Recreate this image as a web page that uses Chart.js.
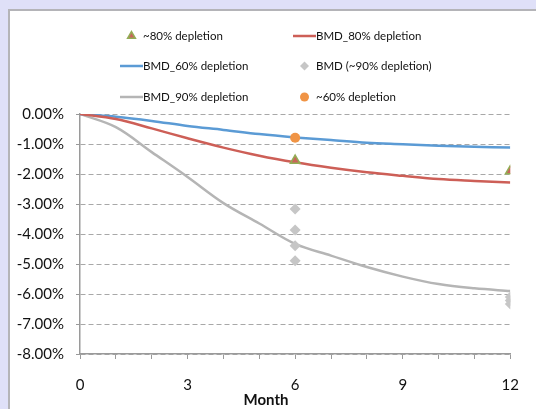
<!DOCTYPE html>
<html>
<head>
    <title>BMD change by depletion</title>
    <style>
        body {
            margin: 0;
            width: 536px;
            height: 409px;
            background: #dfe0f8;
            overflow: hidden;
            font-family: Lato, sans-serif;
        }
        .panel {
            position: absolute;
            left: 8px;
            top: 9px;
            width: 540px;
            height: 420px;
            background: #fff;
            border-left: 2px solid #b4b4b8;
            border-top: 2px solid #b4b4b8;
        }
        #chart {
            position: absolute;
            left: 0;
            top: 0;
        }
        .legend {
            position: absolute;
            left: 0;
            top: 0;
            font-size: 11.5px;
            color: #111;
        }
        .item {
            position: absolute;
            height: 14px;
            line-height: 14px;
            white-space: nowrap;
        }
        .sym {
            display: inline-block;
            width: 23px;
            height: 14px;
            vertical-align: top;
            position: relative;
        }
        .month {
            position: absolute;
            left: 236px;
            top: 390px;
            width: 60px;
            text-align: center;
            font-weight: bold;
            font-size: 15px;
            color: #111;
        }
    </style>
    <script src="https://cdn.jsdelivr.net/npm/chart.js"></script>
</head>
<body>
    <div class="panel"></div>
    <canvas id="chart" width="536" height="409"></canvas>
    <div class="legend" id="legend"></div>
    <div class="month">Month</div>

    <script>
        const months = [0, 1, 2, 3, 4, 5, 6, 7, 8, 9, 10, 11, 12];
        const bmd60 = [0, -0.09, -0.23, -0.40, -0.53, -0.67, -0.78, -0.87, -0.96, -1.01, -1.06, -1.09, -1.12];
        const bmd80 = [0, -0.17, -0.48, -0.81, -1.12, -1.39, -1.61, -1.79, -1.94, -2.06, -2.17, -2.23, -2.28];
        const bmd90 = [0, -0.44, -1.27, -2.10, -2.97, -3.65, -4.33, -4.72, -5.10, -5.42, -5.67, -5.81, -5.90];

        const dep80Months = [6, 12];
        const dep80Values = [-1.55, -1.90];
        const dep60Months = [6];
        const dep60Values = [-0.79];
        const dep90Months = [6, 6, 6, 6, 12, 12, 12];
        const dep90Values = [-3.17, -3.87, -4.39, -4.89, -6.10, -6.22, -6.33];

        const yTicks = [0, -1, -2, -3, -4, -5, -6, -7, -8];

        const pts = (xs, ys) => xs.map((x, i) => ({x: x, y: ys[i]}));

        const datasets = [
            {label: '~80% depletion', data: pts(dep80Months, dep80Values), showLine: false,
             pointStyle: 'triangle', pointRadius: 5.5, backgroundColor: '#c9655a',
             borderColor: '#93ad55', pointBorderWidth: 1.5, order: 0},
            {label: 'BMD_80% depletion', data: pts(months, bmd80), borderColor: '#cd5f57',
             borderWidth: 2.5, pointRadius: 0, tension: 0.35, order: 1},
            {label: 'BMD_60% depletion', data: pts(months, bmd60), borderColor: '#5b9bd5',
             borderWidth: 2.5, pointRadius: 0, tension: 0.35, order: 1},
            {label: 'BMD (~90% depletion)', data: pts(dep90Months, dep90Values), showLine: false,
             pointStyle: 'rectRot', pointRadius: 5.5, backgroundColor: '#c6c6c6',
             borderColor: '#c6c6c6', pointBorderWidth: 0, order: 0},
            {label: 'BMD_90% depletion', data: pts(months, bmd90), borderColor: '#b5b5b5',
             borderWidth: 2.5, pointRadius: 0, tension: 0.35, order: 1},
            {label: '~60% depletion', data: pts(dep60Months, dep60Values), showLine: false,
             pointStyle: 'circle', pointRadius: 5, backgroundColor: '#f09445',
             borderColor: '#f09445', pointBorderWidth: 0, order: 0}
        ];

        const ctx = document.getElementById('chart').getContext('2d');
        const chart = new Chart(ctx, {
            type: 'line',
            data: {datasets: datasets},
            options: {
                responsive: false,
                animation: false,
                layout: {padding: {top: 114, right: 24, left: 0, bottom: 0}},
                plugins: {
                    legend: {display: false},
                    tooltip: {enabled: false}
                },
                scales: {
                    x: {
                        type: 'linear',
                        min: 0,
                        max: 12,
                        afterFit: s => { s.height = 55; },
                        ticks: {
                            stepSize: 1,
                            autoSkip: false,
                            maxRotation: 0,
                            padding: 17,
                            color: '#111',
                            font: {family: 'Lato', size: 15},
                            callback: v => (v % 3 === 0 ? String(v) : '')
                        },
                        grid: {drawOnChartArea: false, tickLength: 5, tickColor: '#9a9a9a'},
                        border: {color: '#9a9a9a', width: 1.5}
                    },
                    y: {
                        min: -8,
                        max: 0,
                        afterFit: s => { s.width = 80; },
                        afterBuildTicks: s => { s.ticks = yTicks.map(v => ({value: v})); },
                        ticks: {
                            padding: 12,
                            color: '#111',
                            font: {family: 'Lato', size: 15},
                            callback: v => v.toFixed(2) + '%'
                        },
                        grid: {color: '#a8a8a8', lineWidth: 1, tickLength: 4, tickColor: '#9a9a9a'},
                        border: {color: '#9a9a9a', width: 1.5, dash: [5, 3]}
                    }
                }
            }
        });

        // legend in two fixed columns, like the original
        const legendPos = [[120, 36], [293, 36], [120, 66], [293, 66], [120, 97], [293, 97]];
        const legend = document.getElementById('legend');
        datasets.forEach((ds, i) => {
            const item = document.createElement('div');
            item.className = 'item';
            item.style.left = legendPos[i][0] + 'px';
            item.style.top = (legendPos[i][1] - 7) + 'px';
            const sym = document.createElement('canvas');
            sym.width = 23;
            sym.height = 14;
            sym.className = 'sym';
            const c = sym.getContext('2d');
            if (ds.showLine === false) {
                c.fillStyle = ds.backgroundColor;
                c.strokeStyle = ds.borderColor;
                c.lineWidth = ds.pointBorderWidth;
                Chart.helpers.drawPoint(c, {pointStyle: ds.pointStyle, radius: 4.5,
                    borderWidth: ds.pointBorderWidth}, 11.5, 7);
            } else {
                c.strokeStyle = ds.borderColor;
                c.lineWidth = 2.5;
                c.beginPath();
                c.moveTo(0, 7);
                c.lineTo(23, 7);
                c.stroke();
            }
            item.appendChild(sym);
            item.appendChild(document.createTextNode(ds.label));
            legend.appendChild(item);
        });
    </script>
</body>
</html>
